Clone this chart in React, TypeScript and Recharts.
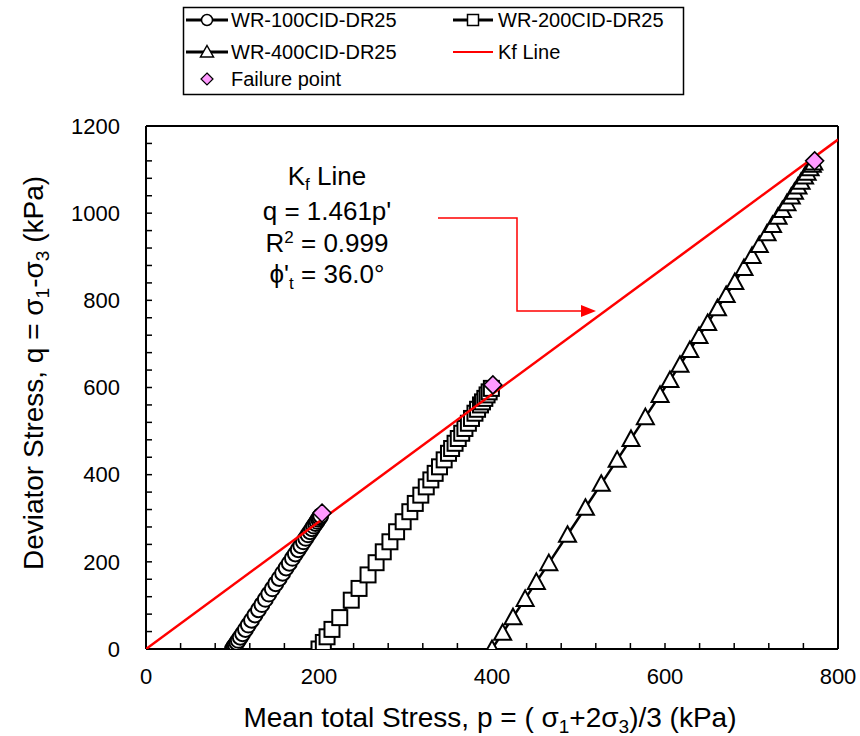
import { ScatterChart, Scatter, XAxis, YAxis } from "recharts";

const FONT = '"Liberation Sans", Arial, sans-serif';

// WR-100CID-DR25, mean total stress p and deviator stress q (kPa)
const wr100P = [100, 101, 102, 103.3, 105, 106.7, 109, 111.7, 115, 118.3, 122, 126, 130, 134, 138, 142, 146, 150, 154, 158, 162, 165.7, 169.3, 172.7, 176, 179, 182, 184.7, 187.3, 189.7, 192, 194, 196, 197.7, 199.3, 200.7, 202];
const wr100Q = [0, 3, 6, 10, 15, 20, 27, 35, 45, 55, 66, 78, 90, 102, 114, 126, 138, 150, 162, 174, 186, 197, 208, 218, 228, 237, 246, 254, 262, 269, 276, 282, 288, 293, 298, 302, 306];

// WR-200CID-DR25
const wr200P = [200, 205, 209.3, 215, 224, 237.3, 246.3, 256.7, 266, 274.3, 282, 289.7, 297.3, 305, 311.3, 317.7, 324, 329.3, 334.3, 339.3, 344.7, 349.7, 353.3, 357.3, 361, 365, 368.7, 372.7, 376.3, 380.3, 383.3, 386.7, 389, 391.7, 394.3, 396.7, 399.3];
const wr200Q = [0, 15, 28, 45, 72, 112, 139, 170, 198, 223, 246, 269, 292, 315, 334, 353, 372, 388, 403, 418, 434, 449, 460, 472, 483, 495, 506, 518, 529, 541, 550, 560, 567, 575, 583, 590, 598];

// WR-400CID-DR25
const wr400P = [400, 412.3, 424.3, 438.3, 451.3, 465.7, 487.3, 508, 526.3, 544.7, 560.7, 577.3, 594.3, 605.7, 617.3, 628.7, 639.3, 649.3, 660.7, 670.7, 680.7, 691.3, 700.7, 709, 718, 724.3, 730.7, 735.7, 741, 746, 749.7, 753.7, 757.3, 761.3, 764.3, 767.7, 770.3, 772];
const wr400Q = [0, 37, 73, 115, 154, 197, 262, 324, 379, 434, 482, 532, 583, 617, 652, 686, 718, 748, 782, 812, 842, 874, 902, 927, 954, 973, 992, 1007, 1023, 1038, 1049, 1061, 1072, 1084, 1093, 1103, 1111, 1116];

// failure points
const failP = [203.5, 401, 773];
const failQ = [312, 606, 1120];

// Kf line q = 1.461p'
const kfP = [0, 800];
const kfQ = [0, 1168.8];

const xTicks = [0, 40, 80, 120, 160, 200, 240, 280, 320, 360, 400, 440, 480, 520, 560, 600, 640, 680, 720, 760, 800];
const yTicks = [0, 40, 80, 120, 160, 200, 240, 280, 320, 360, 400, 440, 480, 520, 560, 600, 640, 680, 720, 760, 800, 840, 880, 920, 960, 1000, 1040, 1080, 1120, 1160, 1200];

const toRows = (p: number[], q: number[]) => p.map((v, i) => ({ p: v, q: q[i] }));

const majorOnly = (v: number) => (v % 200 === 0 ? String(v) : "");

const circleShape = (props: any) => (
  <circle cx={props.cx} cy={props.cy} r={7.5} fill="#fff" stroke="#000" strokeWidth={2} />
);
const squareShape = (props: any) => (
  <rect x={props.cx - 7.5} y={props.cy - 7.5} width={15} height={15} fill="#fff" stroke="#000" strokeWidth={2} />
);
const triangleShape = (props: any) => (
  <path
    d={`M${props.cx},${props.cy - 8.5} L${props.cx + 8.5},${props.cy + 7} L${props.cx - 8.5},${props.cy + 7} Z`}
    fill="#fff"
    stroke="#000"
    strokeWidth={2}
  />
);
const diamondShape = (props: any) => (
  <path
    d={`M${props.cx},${props.cy - 9} L${props.cx + 9},${props.cy} L${props.cx},${props.cy + 9} L${props.cx - 9},${props.cy} Z`}
    fill="#ff99ff"
    stroke="#000"
    strokeWidth={1.5}
  />
);
const noShape = () => <g />;

const tickStyle = { fill: "#000", fontSize: 22, fontFamily: FONT };
const axisLine = { stroke: "#000", strokeWidth: 2 };
const tickLine = { stroke: "#000", strokeWidth: 1.5 };

function Overlay() {
  return (
    <svg
      width={860}
      height={736}
      style={{ position: "absolute", left: 0, top: 0, pointerEvents: "none" }}
      fontFamily={FONT}
    >
      {/* legend */}
      <rect x={183.5} y={7.5} width={500} height={87} fill="#fff" stroke="#000" strokeWidth={1.5} />
      <g fontSize={20} fill="#000">
        <line x1={186} x2={228} y1={20} y2={20} stroke="#000" strokeWidth={3} />
        <circle cx={207} cy={20} r={5.5} fill="#fff" stroke="#000" strokeWidth={1.5} />
        <text x={231} y={27}>WR-100CID-DR25</text>

        <line x1={453} x2={493} y1={20} y2={20} stroke="#000" strokeWidth={3} />
        <rect x={467.5} y={14.5} width={11} height={11} fill="#fff" stroke="#000" strokeWidth={1.5} />
        <text x={498} y={27}>WR-200CID-DR25</text>

        <line x1={186} x2={228} y1={52} y2={52} stroke="#000" strokeWidth={3} />
        <path d="M207,45.5 L213.5,57 L200.5,57 Z" fill="#fff" stroke="#000" strokeWidth={1.5} />
        <text x={231} y={59}>WR-400CID-DR25</text>

        <line x1={453} x2={493} y1={52} y2={52} stroke="#ff0000" strokeWidth={2} />
        <text x={498} y={59}>Kf Line</text>

        <path d="M207,73 L213,79 L207,85 L201,79 Z" fill="#ff99ff" stroke="#000" strokeWidth={1.2} />
        <text x={231} y={86}>Failure point</text>
      </g>

      {/* Kf annotation */}
      <g fontSize={26} fill="#000" textAnchor="middle">
        <text x={327} y={185}>
          K<tspan dy={5} fontSize={17}>f</tspan>
          <tspan dy={-5}> Line</tspan>
        </text>
        <text x={327} y={220}>q = 1.461p'</text>
        <text x={327} y={252}>
          R<tspan dy={-9} fontSize={17}>2</tspan>
          <tspan dy={9}> = 0.999</tspan>
        </text>
        <text x={327} y={283}>
          ϕ'<tspan dy={6} fontSize={17}>t</tspan>
          <tspan dy={-6}> = 36.0°</tspan>
        </text>
      </g>
      <polyline points="438,218 517,218 517,311 584,311" fill="none" stroke="#ff0000" strokeWidth={1.5} />
      <path d="M596,311 L581,305 L581,317 Z" fill="#ff0000" />

      {/* axis titles */}
      <text x={490} y={727} fontSize={28} textAnchor="middle" fill="#000">
        Mean total Stress, p = ( σ<tspan dy={6} fontSize={19}>1</tspan>
        <tspan dy={-6}>+2σ</tspan>
        <tspan dy={6} fontSize={19}>3</tspan>
        <tspan dy={-6}>)/3 (kPa)</tspan>
      </text>
      <text
        x={0}
        y={0}
        fontSize={28}
        textAnchor="middle"
        fill="#000"
        transform="translate(43,373) rotate(-90)"
      >
        Deviator Stress, q = σ<tspan dy={6} fontSize={19}>1</tspan>
        <tspan dy={-6}>-σ</tspan>
        <tspan dy={6} fontSize={19}>3</tspan>
        <tspan dy={-6}> (kPa)</tspan>
      </text>
    </svg>
  );
}

export default function App() {
  return (
    <div style={{ position: "absolute", left: 0, top: 0, width: 860, height: 736, background: "#fff" }}>
      <ScatterChart width={860} height={736} margin={{ top: 125, right: 21, bottom: 57, left: 106 }}>
        <XAxis
          xAxisId="bottom"
          orientation="bottom"
          dataKey="p"
          type="number"
          domain={[0, 800]}
          ticks={xTicks}
          interval={0}
          height={30}
          tickSize={-6}
          tickMargin={25}
          tickFormatter={majorOnly}
          tick={tickStyle}
          axisLine={axisLine}
          tickLine={tickLine}
          allowDataOverflow
        />
        <XAxis
          xAxisId="top"
          orientation="top"
          dataKey="p"
          type="number"
          domain={[0, 800]}
          ticks={xTicks}
          interval={0}
          height={1}
          tickSize={-6}
          tick={false}
          axisLine={axisLine}
          tickLine={tickLine}
          allowDataOverflow
        />
        <YAxis
          yAxisId="left"
          orientation="left"
          dataKey="q"
          type="number"
          domain={[0, 1200]}
          ticks={yTicks}
          interval={0}
          width={40}
          tickSize={-6}
          tickMargin={32}
          tickFormatter={majorOnly}
          tick={tickStyle}
          axisLine={axisLine}
          tickLine={tickLine}
          allowDataOverflow
        />
        <YAxis
          yAxisId="right"
          orientation="right"
          dataKey="q"
          type="number"
          domain={[0, 1200]}
          ticks={yTicks}
          interval={0}
          width={1}
          tickSize={-6}
          tick={false}
          axisLine={axisLine}
          tickLine={tickLine}
          allowDataOverflow
        />
        <Scatter
          name="WR-100CID-DR25"
          xAxisId="bottom"
          yAxisId="left"
          data={toRows(wr100P, wr100Q)}
          line={{ stroke: "#000", strokeWidth: 2.5 }}
          lineType="joint"
          shape={circleShape}
          isAnimationActive={false}
        />
        <Scatter
          name="WR-200CID-DR25"
          xAxisId="bottom"
          yAxisId="left"
          data={toRows(wr200P, wr200Q)}
          line={{ stroke: "#000", strokeWidth: 2.5 }}
          lineType="joint"
          shape={squareShape}
          isAnimationActive={false}
        />
        <Scatter
          name="WR-400CID-DR25"
          xAxisId="bottom"
          yAxisId="left"
          data={toRows(wr400P, wr400Q)}
          line={{ stroke: "#000", strokeWidth: 2.5 }}
          lineType="joint"
          shape={triangleShape}
          isAnimationActive={false}
        />
        <Scatter
          name="Kf Line"
          xAxisId="top"
          yAxisId="right"
          data={toRows(kfP, kfQ)}
          line={{ stroke: "#ff0000", strokeWidth: 2.5 }}
          lineType="joint"
          shape={noShape}
          isAnimationActive={false}
        />
        <Scatter
          name="Failure point"
          xAxisId="bottom"
          yAxisId="left"
          data={toRows(failP, failQ)}
          shape={diamondShape}
          isAnimationActive={false}
        />
      </ScatterChart>
      <Overlay />
    </div>
  );
}
